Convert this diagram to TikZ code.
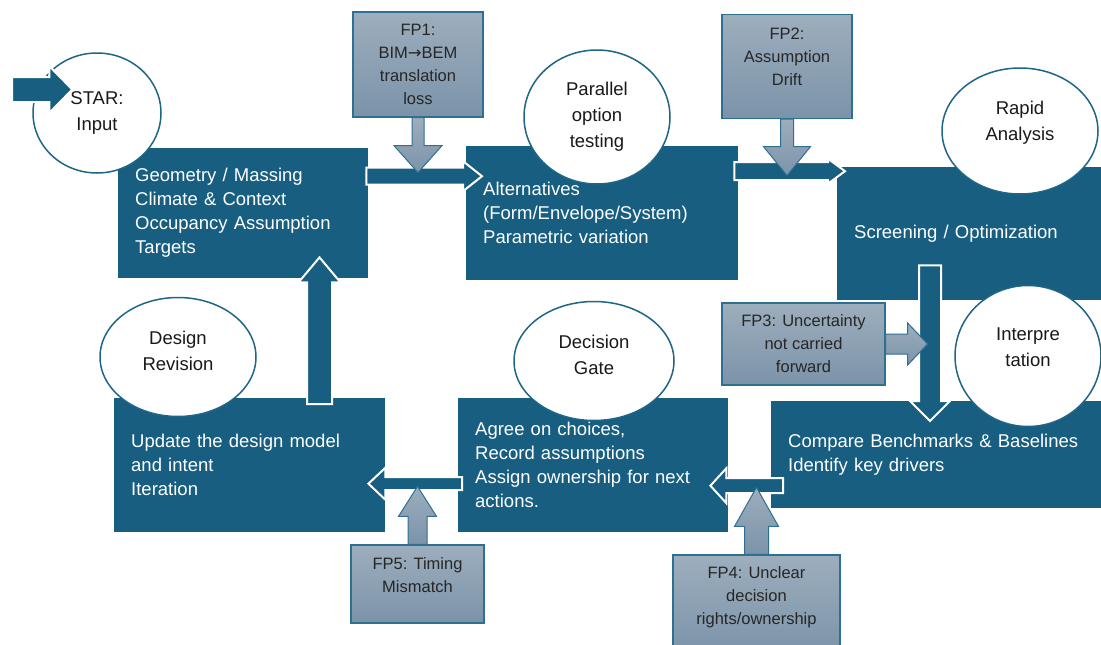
\documentclass[tikz,border=0pt]{standalone}
\usepackage{fontspec}
\setmainfont{Liberation Sans}
\newfontfamily\arrowfont{DejaVu Sans}
\usetikzlibrary{calc,shapes.geometric}

\definecolor{deepteal}{HTML}{175E80}
\definecolor{fptop}{HTML}{9DAEBD}
\definecolor{fpbottom}{HTML}{7B93A9}
\definecolor{fpedge}{HTML}{2F6F92}
\definecolor{ringedge}{HTML}{1F6585}

% block arrow: style, tail, tip, half shaft, half head, head length
\newcommand{\blockarrow}[6]{%
  \coordinate (hb) at ($(#3)!#6!(#2)$);
  \path[#1] ($(#2)!#4!90:(#3)$) -- ($(hb)!#4!90:(#3)$) -- ($(hb)!#5!90:(#3)$)
    -- (#3) -- ($(hb)!#5!-90:(#3)$) -- ($(hb)!#4!-90:(#3)$) -- ($(#2)!#4!-90:(#3)$) -- cycle;
}

\begin{document}
\begin{tikzpicture}[
  x=1pt, y=-1pt,
  box/.style 2 args={rectangle, fill=deepteal, text=white, anchor=north west, align=left,
    inner xsep=17pt, text width=#1, minimum height=#2, font=\fontsize{18.5}{24}\selectfont},
  ring/.style={ellipse, draw=ringedge, line width=1.5pt, fill=white, align=center,
    inner sep=0pt, text=black!90, font=\fontsize{18.5}{26}\selectfont},
  fp/.style={rectangle, draw=fpedge, line width=1.2pt, top color=fptop, bottom color=fpbottom,
    align=center, text=black!85, font=\fontsize{16.5}{23}\selectfont},
  lift/.style={text depth=#1},
  flow/.style={fill=deepteal, draw=white, line width=2pt},
  flag/.style={top color=fptop, bottom color=fpbottom, draw=fpedge, line width=1pt}
]
\useasboundingbox (0,0) rectangle (1101,645);

\node[box={216pt}{130pt}] (inputs) at (118,148) {Geometry / Massing\\Climate \& Context\\Occupancy Assumption\\Targets};
\node[box={238pt}{134pt}] (options) at (466,146) {Alternatives\\(Form/Envelope/System)\\Parametric variation};
\node[box={230pt}{133pt}] (screen) at (837,167) {Screening / Optimization};
\node[box={296pt}{107pt}] (compare) at (771,401) {Compare Benchmarks \& Baselines\\Identify key drivers};
\node[box={236pt}{134pt}] (decide) at (458,398) {Agree on choices,\\Record assumptions\\Assign ownership for next\\actions.};
\node[box={237pt}{134pt}] (revise) at (114,398) {Update the design model\\and intent\\Iteration};

\node[ring, minimum width=128pt, minimum height=120pt] (start) at (97,113) {STAR:\\Input};
\node[ring, minimum width=146pt, minimum height=134pt] (parallel) at (597,117) {Parallel\\option\\testing};
\node[ring, lift=20pt, minimum width=156pt, minimum height=126pt] (rapid) at (1020,131) {Rapid\\Analysis};
\node[ring, lift=17pt, minimum width=146pt, minimum height=141pt] (interp) at (1028,356) {Interpre\\tation};
\node[ring, lift=12pt, minimum width=160pt, minimum height=119pt] (gate) at (594,361) {Decision\\Gate};
\node[ring, lift=13pt, minimum width=156pt, minimum height=119pt] (revision) at (178,357) {Design\\Revision};

\coordinate (entry) at (12,89.5);
\coordinate (entry tip) at ($(start.west)+(40,-23.5)$);
\coordinate (a12 tail) at ($(inputs.east)+(-2,-37)$);
\coordinate (a12 tip) at ($(options.west |- a12 tail)+(16,0)$);
\coordinate (a23 tail) at ($(options.east)+(-4,-42)$);
\coordinate (a23 tip) at ($(screen.west |- a23 tail)+(8,0)$);
\coordinate (a34 tail) at ($(screen.south west)+(93,-35)$);
\coordinate (a34 tip) at ($(a34 tail |- compare.north)+(0,20)$);
\coordinate (a45 tail) at ($(compare.west)+(12,31)$);
\coordinate (a45 tip) at ($(decide.east |- a45 tail)+(-18,0)$);
\coordinate (a56 tail) at ($(decide.west)+(4,18.5)$);
\coordinate (a56 tip) at ($(revise.east |- a56 tail)+(-17,0)$);
\coordinate (a61 tail) at ($(revise.north west)+(205.5,6)$);
\coordinate (a61 tip) at ($(a61 tail |- inputs.south)+(0,-21)$);

\blockarrow{flow}{entry}{entry tip}{12.5pt}{23.5pt}{23pt}
\blockarrow{flow}{a12 tail}{a12 tip}{8.5pt}{15pt}{19pt}
\blockarrow{flow}{a23 tail}{a23 tip}{9pt}{12.5pt}{17pt}
\blockarrow{flow}{a34 tail}{a34 tip}{11pt}{20pt}{20pt}
\blockarrow{flow}{a45 tail}{a45 tip}{7.5pt}{17.5pt}{16pt}
\blockarrow{flow}{a56 tail}{a56 tip}{6.5pt}{16pt}{17pt}
\blockarrow{flow}{a61 tail}{a61 tip}{12.5pt}{21pt}{25pt}

\node[fp, minimum width=130pt, minimum height=105pt] (fp1) at (418,64.5) {FP1:\\BIM{\arrowfont →}BEM\\translation\\loss};
\node[fp, lift=20pt, minimum width=130pt, minimum height=104pt] (fp2) at (787,66.5) {FP2:\\Assumption\\Drift};
\node[fp, minimum width=163pt, minimum height=82pt] (fp3) at (803.5,344) {FP3: Uncertainty\\not carried\\forward};
\node[fp, lift=19.5pt, minimum width=167pt, minimum height=100pt] (fp4) at (756.5,605) {FP4: Unclear\\decision\\rights/ownership};
\node[fp, lift=17pt, minimum width=133pt, minimum height=78pt] (fp5) at (417.5,584) {FP5: Timing\\Mismatch};

\coordinate (f1 tip) at ($(fp1.south)+(0,55)$);
\coordinate (f2 tip) at ($(fp2.south)+(0,56.5)$);
\coordinate (f3 tip) at ($(fp3.east)+(42,0)$);
\coordinate (f4 tip) at ($(fp4.north)+(0,-67)$);
\coordinate (f5 tip) at ($(fp5.north)+(0,-58)$);

\blockarrow{flag}{fp1.south}{f1 tip}{6pt}{24pt}{27pt}
\blockarrow{flag}{fp2.south}{f2 tip}{6.5pt}{23.5pt}{29pt}
\blockarrow{flag}{fp3.east}{f3 tip}{10pt}{21pt}{20pt}
\blockarrow{flag}{fp4.north}{f4 tip}{12pt}{22pt}{39pt}
\blockarrow{flag}{fp5.north}{f5 tip}{9.5pt}{19pt}{30pt}
\end{tikzpicture}
\end{document}
